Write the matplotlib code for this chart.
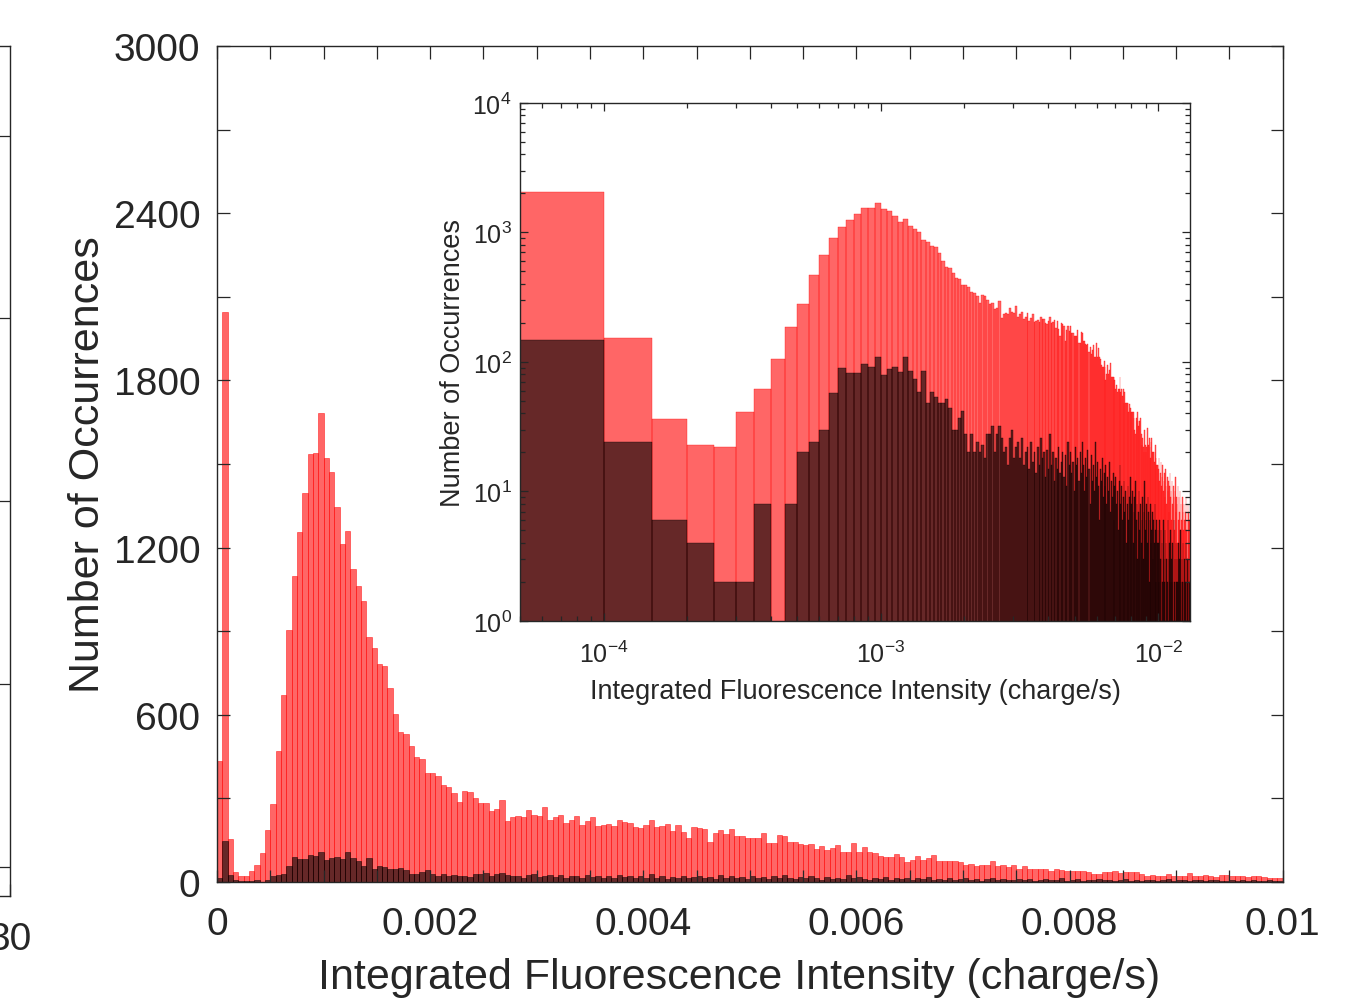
"""Histogram of integrated fluorescence intensity with a log-log inset."""

import numpy as np
import matplotlib

matplotlib.use("Agg")
import matplotlib.pyplot as plt
from matplotlib.ticker import MultipleLocator, LogLocator, NullFormatter

plt.rcParams["font.family"] = ["Liberation Sans", "DejaVu Sans"]
plt.rcParams["mathtext.fontset"] = "custom"
plt.rcParams["mathtext.rm"] = "Liberation Sans"
plt.rcParams["mathtext.it"] = "Liberation Sans:italic"

BIN_WIDTH = 5e-5

# counts per bin, bin i covers [i*BIN_WIDTH, (i+1)*BIN_WIDTH)
all_counts = [
    433, 2045, 153, 36, 23, 22, 41, 62, 105, 186,
    280, 472, 670, 905, 1100, 1255, 1395, 1535, 1540, 1682,
    1520, 1472, 1347, 1214, 1259, 1123, 1063, 1007, 879, 840,
    781, 777, 695, 603, 540, 530, 488, 447, 440, 391,
    391, 380, 349, 342, 321, 286, 328, 324, 303, 282,
    283, 255, 262, 293, 220, 233, 237, 233, 260, 242,
    238, 270, 224, 234, 242, 213, 224, 238, 206, 220,
    234, 202, 206, 209, 202, 224, 216, 213, 199, 195,
    206, 224, 199, 202, 209, 184, 206, 181, 159, 199,
    195, 191, 145, 177, 188, 173, 191, 166, 166, 159,
    159, 159, 177, 141, 141, 170, 166, 145, 145, 138,
    134, 138, 120, 130, 116, 123, 134, 109, 109, 141,
    109, 127, 109, 105, 94, 91, 91, 102, 91, 73,
    80, 94, 80, 87, 98, 77, 77, 77, 77, 73,
    62, 66, 59, 62, 62, 77, 59, 62, 55, 62,
    48, 59, 48, 48, 48, 48, 41, 47, 44, 41,
    41, 41, 41, 37, 30, 28, 37, 35, 41, 32,
    35, 35, 37, 28, 23, 26, 22, 20, 30, 23,
    20, 22, 31, 23, 23, 26, 22, 18, 24, 26,
    20, 20, 20, 17, 20, 23, 18, 16, 16, 16,
    15, 18, 12, 14, 17, 11, 13, 16, 10, 12,
    14, 9, 15, 11, 8, 13, 10, 12, 7, 11,
    14, 9, 10, 6, 12, 8, 11, 9, 5, 10,
    13, 7, 9, 8, 4, 11, 6, 9, 7, 10,
    5, 8, 6, 3, 9, 7, 5, 8, 6, 4,
    7, 9, 5, 6, 3, 8, 5, 7, 4, 6,
    2, 6,
]

subset_counts = [
    14, 147, 24, 6, 4, 2, 2, 8, 0, 8,
    20, 24, 30, 58, 90, 82, 82, 97, 92, 109,
    79, 88, 91, 83, 109, 85, 74, 59, 85, 48,
    59, 54, 48, 48, 52, 44, 30, 30, 37, 42,
    28, 20, 28, 20, 24, 20, 23, 18, 28, 28,
    32, 20, 28, 32, 26, 20, 22, 16, 26, 30,
    18, 22, 24, 18, 26, 16, 20, 22, 15, 24,
    17, 20, 14, 22, 16, 26, 18, 20, 13, 21,
    15, 28, 16, 20, 12, 18, 15, 22, 14, 17,
    20, 13, 19, 11, 24, 16, 20, 14, 17, 10,
    22, 16, 18, 12, 20, 14, 24, 16, 10, 18,
    13, 21, 15, 8, 19, 12, 16, 10, 24, 13,
    17, 11, 6, 15, 12, 18, 9, 14, 11, 16,
    8, 13, 10, 17, 7, 12, 9, 14, 6, 11,
    13, 8, 10, 5, 12, 16, 8, 11, 6, 9,
    12, 7, 10, 4, 8, 11, 6, 9, 13, 5,
    8, 10, 4, 7, 9, 12, 6, 8, 3, 7,
    10, 5, 8, 4, 6, 9, 3, 7, 12, 5,
    6, 8, 4, 9, 7, 2, 6, 8, 4, 5,
    7, 3, 6, 4, 8, 5, 2, 6, 4, 5,
    4, 2, 6, 3, 5, 1, 4, 2, 6, 3,
    2, 5, 1, 4, 3, 2, 6, 1, 3, 4,
    2, 5, 1, 3, 2, 4, 1, 6, 2, 3,
    1, 4, 2, 3, 2, 1, 4, 2, 3, 1,
    5, 2, 1, 3, 2, 4, 1, 2, 3, 1,
    2, 4, 1, 2, 3, 1, 2, 1, 3, 2,
    1, 2,
]

main_xticks = [0, 0.002, 0.004, 0.006, 0.008, 0.01]
main_xticklabels = ["0", "0.002", "0.004", "0.006", "0.008", "0.01"]
main_yticks = [0, 600, 1200, 1800, 2400, 3000]
x_label = "Integrated Fluorescence Intensity (charge/s)"
y_label = "Number of Occurrences"

assert len(all_counts) == len(subset_counts)

TXT = "#262626"
edges = np.arange(len(all_counts)) * BIN_WIDTH


def draw_hist(ax, lw):
    ax.bar(edges, all_counts, width=BIN_WIDTH, align="edge",
           facecolor=(1, 0, 0, 0.6), edgecolor=(1, 0, 0, 0.8), linewidth=lw)
    ax.bar(edges, subset_counts, width=BIN_WIDTH, align="edge",
           facecolor=(0, 0, 0, 0.6), edgecolor=(0, 0, 0, 0.8), linewidth=lw)


def style_axes(ax, size, length, pad):
    for sp in ax.spines.values():
        sp.set_color(TXT)
        sp.set_linewidth(1.0)
    ax.tick_params(which="both", direction="in", top=True, right=True,
                   colors=TXT, labelcolor=TXT, labelsize=size, width=0.9)
    ax.tick_params(which="major", length=length, pad=pad)
    ax.tick_params(which="minor", length=length * 0.6)


fig = plt.figure(figsize=(13.56, 10.03), dpi=100)

# neighbouring panel, mostly cut off at the left edge
ax_l = fig.add_axes([0.00737 - 0.6, 0.1057, 0.6, 0.8475])
ax_l.set_xlim(0, 30)
ax_l.set_xticks([30])
ax_l.set_xticklabels(["30"])
ax_l.set_ylim(0.84, 5.49)
ax_l.set_yticks([1, 2, 3, 4, 5])
ax_l.set_yticklabels([])
style_axes(ax_l, 28, 9, 18)
ax_l.tick_params(top=False)

# main histogram
ax = fig.add_axes([0.160, 0.1196, 0.786, 0.8335])
draw_hist(ax, 0.4)
ax.set_xlim(0, 0.01)
ax.set_ylim(0, 3000)
ax.set_xticks(main_xticks)
ax.set_xticklabels(main_xticklabels)
ax.set_yticks(main_yticks)
ax.xaxis.set_minor_locator(MultipleLocator(0.0005))
ax.yaxis.set_minor_locator(MultipleLocator(300))
style_axes(ax, 28, 9, 12)
ax.tick_params(axis="x", which="major", pad=17)
ax.tick_params(which="minor", length=9)
ax.set_xlabel(x_label, fontsize=31, color=TXT)
ax.set_ylabel(y_label, fontsize=31, color=TXT)
ax.xaxis.label.set_va("center")
ax.yaxis.label.set_va("center")
ax.xaxis.set_label_coords(0.49, -0.113)
ax.yaxis.set_label_coords(-0.121, 0.5)

# log-log inset
axi = fig.add_axes([0.3835, 0.3799, 0.494, 0.5165])
draw_hist(axi, 0.3)
axi.set_xscale("log")
axi.set_yscale("log")
axi.set_xlim(5e-5, 0.013)
axi.set_ylim(1, 1e4)
axi.xaxis.set_major_locator(LogLocator(base=10, numticks=10))
axi.yaxis.set_major_locator(LogLocator(base=10, numticks=10))
axi.xaxis.set_minor_locator(LogLocator(base=10, subs=np.arange(2, 10), numticks=20))
axi.yaxis.set_minor_locator(LogLocator(base=10, subs=np.arange(2, 10), numticks=20))
axi.xaxis.set_minor_formatter(NullFormatter())
axi.yaxis.set_minor_formatter(NullFormatter())
style_axes(axi, 18, 6, 6)
axi.tick_params(axis="x", which="major", pad=14)
axi.set_xlabel(x_label, fontsize=19.5, color=TXT)
axi.set_ylabel(y_label, fontsize=19.5, color=TXT)
axi.xaxis.label.set_va("center")
axi.yaxis.label.set_va("center")
axi.xaxis.set_label_coords(0.5, -0.135)
axi.yaxis.set_label_coords(-0.10, 0.5)

fig.savefig("out.png", dpi=100)
